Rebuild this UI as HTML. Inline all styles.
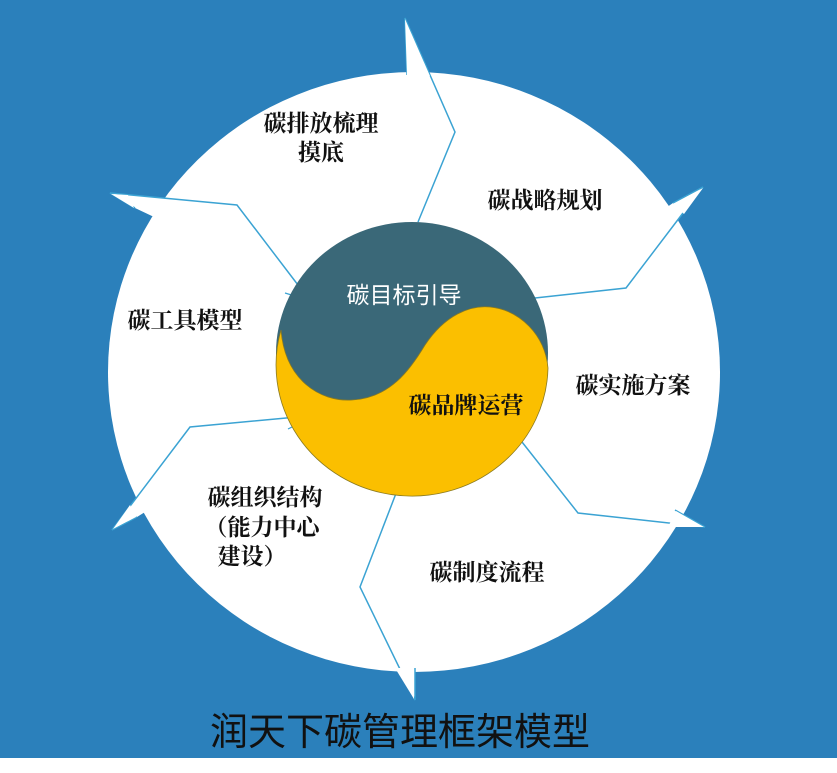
<!DOCTYPE html>
<html><head><meta charset="utf-8"><style>
html,body{margin:0;padding:0;background:#fff;}
svg{display:block;}
.t{font-family:"Noto Serif CJK SC","Liberation Serif",serif;font-size:23px;font-weight:bold;fill:#111;text-anchor:middle;}
</style></head><body>
<svg width="837" height="773" viewBox="0 0 837 773" xmlns="http://www.w3.org/2000/svg">
<rect x="0" y="0" width="837" height="758" fill="#2b80bb"/>
<rect x="0" y="758" width="837" height="15" fill="#fff"/>
<ellipse cx="414" cy="372" rx="306" ry="300" fill="#fff"/>
<g fill="#fff" stroke="#3ba3d3" stroke-width="1.5" stroke-linejoin="miter">
 <path d="M418 222 L455 132 L405 18 L407 75"/>
 <path d="M535 298 L626 288 L683 213 L703 187 L673 203"/>
 <path d="M522 442 L578 513 L705 527 L675 510"/>
 <path d="M400 483 L360 587 L415 700 L415 668"/>
 <path d="M297 417 L190 427 L112 530 L137 517"/>
 <path d="M298 285 L237 205 L110 193 L135 208"/>
</g>
<g fill="#fff" stroke="none">
 <path d="M405 19 L407 75 L430 76 Z"/>
 <path d="M703 188 L673 204 L684 214 Z"/>
 <path d="M704 527 L676 511 L668 527 Z"/>
 <path d="M414 699 L414 668 L395 668 Z"/>
 <path d="M113 529 L136 517 L130 505 Z"/>
 <path d="M111 194 L134 208 L128 195 Z"/>
</g>
<line x1="285" y1="293" x2="298" y2="297" stroke="#3ba3d3" stroke-width="1.2"/>
<line x1="408" y1="485" x2="408" y2="496" stroke="#3ba3d3" stroke-width="1.2"/>
<line x1="288" y1="429" x2="298" y2="424" stroke="#3ba3d3" stroke-width="1.2"/>
<ellipse cx="412" cy="353" rx="136" ry="131" fill="#3a6878"/>
<path d="M281 330 C285 380 320 402 352 400 C390 398 410 370 425 345 C445 315 470 305 490 307 C520 310 545 335 548 368 A136 131 0 1 1 281 330 Z" fill="#fbbf00" stroke="#8a7a20" stroke-width="0.8"/>
<text class="t" x="321" y="131">碳排放梳理</text>
<text class="t" x="321" y="160">摸底</text>
<text class="t" x="545" y="208">碳战略规划</text>
<text class="t" x="633" y="393">碳实施方案</text>
<text class="t" x="487" y="580">碳制度流程</text>
<text class="t" x="265" y="505">碳组织结构</text>
<text class="t" x="262" y="535">（能力中心</text>
<text class="t" x="252" y="564">建设）</text>
<text class="t" x="185" y="328">碳工具模型</text>
<text class="t" x="404" y="303" style="fill:#fff;font-weight:normal;font-family:'Noto Sans CJK SC',sans-serif;">碳目标引导</text>
<text class="t" x="466" y="413">碳品牌运营</text>
<text x="400" y="745" text-anchor="middle" style="font-family:'Noto Sans CJK SC',sans-serif;font-size:38px;fill:#111;">润天下碳管理框架模型</text>
</svg>
</body></html>
